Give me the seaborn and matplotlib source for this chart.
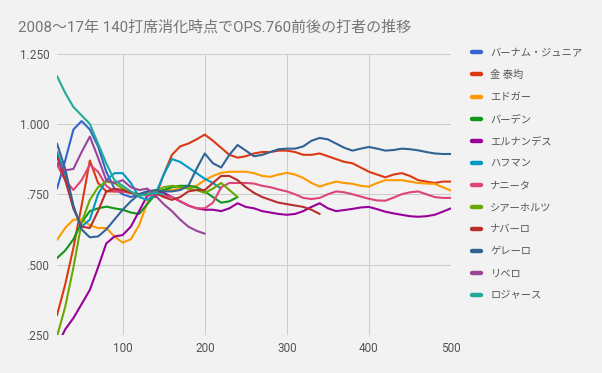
import numpy as np
import pandas as pd
import seaborn as sns
import matplotlib.pyplot as plt
from matplotlib.lines import Line2D

# 打者名（凡例の順）
names = ['バーナム・ジュニア', '金 泰均', 'エドガー', 'バーデン', 'エルナンデス', 'ハフマン',
         'ナニータ', 'シアーホルツ', 'ナバーロ', 'ゲレーロ', 'リベロ', 'ロジャース']

# Google Charts 既定の配色
colors = ['#3366cc', '#dc3912', '#ff9900', '#109618', '#990099', '#0099c6',
          '#dd4477', '#66aa00', '#b82e2e', '#316395', '#994499', '#22aa99']

# 打席数 20 から 10 打席ごとの OPS
barnum = [.77, .87, .98, 1.01, .98, .92, .83, .77, .75, .74, .75, .76, .76]
kim = [.32, .43, .56, .71, .87, .79, .76, .76, .76, .755, .75, .75, .74, .82, .89, .92,
       .93, .945, .962, .94, .915, .89, .88, .885, .895, .90, .90, .905, .905, .90, .89,
       .89, .895, .885, .875, .865, .86, .845, .83, .82, .81, .82, .825, .815, .80, .795,
       .79, .795, .795]
edgar = [.588, .63, .66, .66, .64, .63, .63, .60, .578, .59, .64, .72, .76, .765, .765,
         .77, .775, .78, .80, .815, .826, .83, .83, .83, .825, .815, .812, .82, .826, .82,
         .808, .79, .777, .787, .795, .79, .787, .78, .777, .79, .80, .80, .80, .795, .79,
         .788, .787, .775, .763]
barden = [.523, .55, .59, .65, .69, .70, .706, .70, .695, .685, .68, .715, .75, .765, .775,
          .78, .78, .775, .76, .74, .72, .725, .74]
hernandez = [.21, .27, .31, .36, .41, .49, .575, .60, .605, .635, .69, .745, .76, .755, .74,
             .725, .71, .70, .695, .695, .69, .70, .718, .705, .70, .69, .685, .68, .677, .68,
             .69, .705, .718, .70, .69, .694, .698, .703, .705, .697, .688, .682, .677, .672,
             .67, .672, .677, .688, .70]
huffman = [.90, .82, .70, .635, .66, .75, .80, .825, .825, .79, .74, .73, .75, .82, .875,
           .865, .845, .825, .805, .79, .77]
nanita = [.855, .80, .765, .80, .855, .83, .78, .76, .76, .755, .75, .745, .75, .745, .74,
          .725, .71, .70, .70, .72, .775, .79, .79, .79, .788, .78, .775, .767, .76, .75,
          .737, .733, .737, .75, .76, .757, .75, .742, .734, .728, .727, .738, .75, .757,
          .76, .75, .74, .737, .737]
siaholtz = [.245, .35, .49, .65, .73, .775, .795, .79, .77, .755, .745, .75, .76, .775, .78,
            .775, .77, .765, .755, .77, .79, .765, .74]
navarro = [.885, .80, .70, .635, .63, .69, .76, .77, .765, .755, .75, .75, .755, .74, .73,
           .74, .76, .765, .765, .79, .815, .815, .80, .775, .755, .74, .73, .72, .715, .71,
           .705, .695, .68]
gurrero = [.93, .84, .71, .625, .597, .60, .625, .66, .695, .725, .75, .76, .765, .76, .76,
           .765, .78, .84, .895, .86, .845, .89, .925, .905, .885, .89, .90, .91, .912, .912,
           .92, .94, .95, .945, .93, .915, .905, .912, .918, .912, .905, .907, .912, .91,
           .906, .90, .895, .893, .893]
ribero = [.86, .835, .84, .90, .955, .88, .80, .79, .80, .775, .765, .77, .745, .715, .69,
          .66, .635, .62, .61]
rogers = [1.17, 1.11, 1.06, 1.03, 1.0, .93, .86, .80, .78, .76, .745, .75, .755, .75]

series = [barnum, kim, edgar, barden, hernandez, huffman,
          nanita, siaholtz, navarro, gurrero, ribero, rogers]

rows = []
for name, vals in zip(names, series):
    for i, v in enumerate(vals):
        rows.append({'打席': 20 + 10 * i, 'OPS': v, '打者': name})
df = pd.DataFrame(rows)

sns.set_theme(style='whitegrid')
plt.rcParams['font.family'] = ['Roboto', 'Noto Sans CJK JP', 'DejaVu Sans']

bg = '#f2f2f2'
fig = plt.figure(figsize=(6.02, 3.73), dpi=100, facecolor=bg)
ax = fig.add_axes([57 / 602, 38 / 373, 394 / 602, 281.5 / 373])
ax.set_facecolor(bg)

sns.lineplot(data=df, x='打席', y='OPS', hue='打者', hue_order=names,
             palette=colors, linewidth=1.5, estimator=None, legend=False, ax=ax)

ax.set_xlim(20, 500)
ax.set_ylim(0.25, 1.25)
ax.set_xticks([100, 200, 300, 400, 500])
ax.set_xticklabels(['100', '200', '300', '400', '500'])
ax.set_yticks([0.25, 0.5, 0.75, 1.0, 1.25])
ax.set_yticklabels(['.250', '.500', '.750', '1.000', '1.250'])
ax.set_xlabel('')
ax.set_ylabel('')
ax.grid(True, color='#cccccc', linewidth=0.75)
ax.tick_params(length=0, labelsize=8.5, labelcolor='#555555')
ax.tick_params(axis='x', pad=5)
ax.tick_params(axis='y', pad=5.5)
for s in ax.spines.values():
    s.set_visible(False)

fig.text(18 / 602, 1 - 27 / 373, '2008～17年 140打席消化時点でOPS.760前後の打者の推移',
         fontsize=10.8, color='#757575', ha='left', va='center')

handles = [Line2D([0], [0], color=c, lw=3.2, solid_capstyle='round') for c in colors]
fig.legend(handles, names, loc='upper left', bbox_to_anchor=(472 / 602, 1 - 48 / 373),
           frameon=False, fontsize=7.4, labelcolor='#555555', handlelength=0.87,
           handletextpad=0.92, labelspacing=1.17, borderpad=0, borderaxespad=0)

fig.savefig('out.png', dpi=100, facecolor=bg)
